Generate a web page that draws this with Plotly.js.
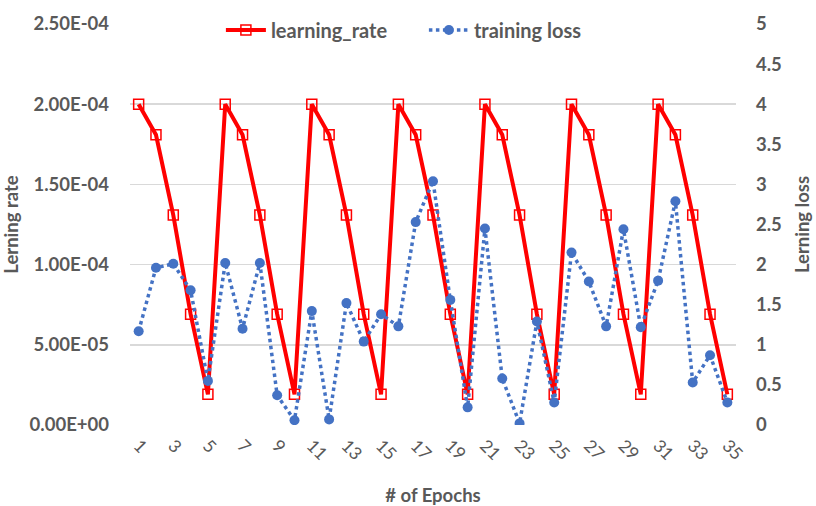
<!DOCTYPE html>
<html>
<head>
<meta charset="utf-8">
<script src="https://cdn.plot.ly/plotly-3.0.1.min.js"></script>
<style>html,body{margin:0;padding:0;background:#fff;}#chart{width:816px;height:506px;}</style>
</head>
<body>
<div id="chart"></div>
<script>
const epochs = [1,2,3,4,5,6,7,8,9,10,11,12,13,14,15,16,17,18,19,20,21,22,23,24,25,26,27,28,29,30,31,32,33,34,35];
const learningRate = [
  2.0e-4,1.809e-4,1.309e-4,0.691e-4,0.191e-4,
  2.0e-4,1.809e-4,1.309e-4,0.691e-4,0.191e-4,
  2.0e-4,1.809e-4,1.309e-4,0.691e-4,0.191e-4,
  2.0e-4,1.809e-4,1.309e-4,0.691e-4,0.191e-4,
  2.0e-4,1.809e-4,1.309e-4,0.691e-4,0.191e-4,
  2.0e-4,1.809e-4,1.309e-4,0.691e-4,0.191e-4,
  2.0e-4,1.809e-4,1.309e-4,0.691e-4,0.191e-4
];
const trainingLoss = [
  1.17,1.96,2.01,1.68,0.55,2.02,1.20,2.02,0.37,0.06,
  1.42,0.07,1.52,1.04,1.38,1.23,2.53,3.04,1.56,0.22,
  2.45,0.58,0.02,1.29,0.28,2.15,1.79,1.23,2.44,1.22,
  1.80,2.79,0.53,0.87,0.28
];
const xTickVals = [1,3,5,7,9,11,13,15,17,19,21,23,25,27,29,31,33,35];
const leftTickVals = [0,0.5e-4,1.0e-4,1.5e-4,2.0e-4,2.5e-4];
const leftTickText = ["0.00E+00","5.00E-05","1.00E-04","1.50E-04","2.00E-04","2.50E-04"];

const grey = '#595959';
const fontFam = 'Lato, "Open Sans", sans-serif';
const tickFont = {family: fontFam, size: 18.5, color: grey, weight: 'bold'};
const titleFont = {family: fontFam, size: 18.5, color: grey, weight: 'bold'};

const traces = [
  {
    x: epochs, y: learningRate, name: 'learning_rate', type: 'scatter', mode: 'lines+markers',
    line: {color: '#ff0000', width: 4},
    marker: {symbol: 'square-open', size: 10, color: '#ff0000', line: {width: 1.5, color: '#ff0000'}},
    yaxis: 'y'
  },
  {
    x: epochs, y: trainingLoss, name: 'training loss', type: 'scatter', mode: 'lines+markers',
    line: {color: '#4472C4', width: 3.5, dash: 'dot'},
    marker: {symbol: 'circle', size: 10, color: '#4472C4'},
    yaxis: 'y2'
  }
];

const layout = {
  width: 816, height: 506,
  margin: {l: 130, r: 80, t: 11, b: 81},
  paper_bgcolor: '#fff', plot_bgcolor: '#fff',
  font: {family: fontFam, color: grey},
  showlegend: true,
  legend: {
    orientation: 'h', x: 0.15, xanchor: 'left', y: 0.985, yanchor: 'middle',
    bgcolor: 'rgba(0,0,0,0)', font: {family: fontFam, size: 20, color: grey, weight: 'bold'},
    itemwidth: 40, traceorder: 'normal', entrywidth: 148, entrywidthmode: 'pixels'
  },
  xaxis: {
    range: [0.5, 35.5], tickvals: xTickVals, ticktext: xTickVals.map(String),
    tickangle: 45, tickfont: {family: fontFam, size: 17.5, color: grey},
    showgrid: false, zeroline: false, showline: false, ticks: '', ticklabelstandoff: 6, automargin: false,
    title: {text: '# of Epochs', font: titleFont, standoff: 30}
  },
  yaxis: {
    range: [0, 2.5e-4], tickvals: leftTickVals, ticktext: leftTickText,
    tickfont: tickFont, showgrid: true, gridcolor: '#d9d9d9', gridwidth: 1.5,
    zeroline: false, showline: false, ticks: '', ticklabelstandoff: 20, automargin: false,
    title: {text: 'Lerning rate', font: titleFont, standoff: 14}
  },
  yaxis2: {
    range: [0, 5], dtick: 0.5, tick0: 0, overlaying: 'y', side: 'right',
    tickfont: tickFont, showgrid: false, zeroline: false, showline: false, ticks: '',
    ticklabelstandoff: 19, automargin: false,
    title: {text: 'Lerning loss', font: titleFont, standoff: 15}
  }
};

Plotly.newPlot('chart', traces, layout, {displayModeBar: false, staticPlot: true});
</script>
</body>
</html>
